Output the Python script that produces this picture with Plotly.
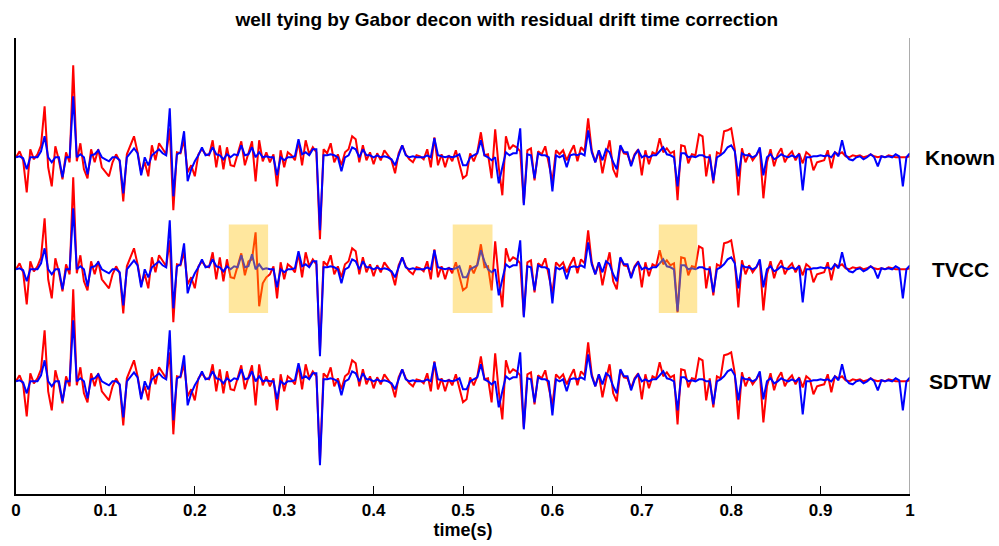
import plotly.graph_objects as go

# time axis (s), sample interval 0.004 s
DT = 0.004
N = 251
time = [round(i * DT, 3) for i in range(N)]

# Known row amplitudes (arbitrary units)
red_known = [
    0, 6, -3, -35, 8, -2, 3, 12, 51, -10, -29, 11, -3, -22, 5, -5, 92, -4, 14, -12, -21, 8, -5, 8, -10,
    -15, -19, -5, 3, -4, -44, 3, 12, 21, 5, -15, -5, -19, 12, -3, 14, 8, 3, 29, -53, 5, 4, 17, -15, -8,
    -19, 3, 8, 3, 2, 17, -10, 12, -12, 10, -8, -9, 4, 16, -8, 5, 16, -24, 17, -4, 5, -5, 3, -29, 7,
    -10, 5, 2, -3, 16, -8, 17, 3, 10, 5, -82, 8, 4, 14, -5, 3, -8, 5, 8, 21, 18, -5, 12, -3, 5,
    -7, 4, -3, 7, 2, -3, -16, 4, 12, 3, -2, -5, 2, 1, -2, 8, -10, 20, -8, 3, -10, 2, -4, 7, -7,
    -21, -18, 4, -4, 5, 25, 2, 3, -21, 28, -10, -38, 21, 8, 12, 10, 6, -46, 7, 9, -23, 6, 3, 11, -5,
    -24, 7, 3, 7, -3, 5, 12, -4, 10, 6, 39, 7, -5, 7, -16, 2, 17, -12, -20, 11, 4, 3, -7, 3, 8,
    -18, 7, -7, 5, 3, 19, 5, 9, 4, 6, -43, 12, 11, -6, 3, 2, 23, 21, -19, 3, -26, 5, 3, 26, 27,
    29, 8, -38, 9, -5, 4, -3, 2, 8, -41, -5, 8, -9, 3, 9, -5, 2, 6, -3, 4, -6, 5, 2, -13, -5,
    -4, -3, 7, -11, 5, 3, 5, 1, 0, 2, 1, 2, 0, 1, 3, 1, 0, 1, 0, 2, 1, 0, 0, 0, 0, 1,
]
blue_known = [
    0, 1, -1, -12, 0, 0, 0, 6, 21, 0, -5, 0, 0, -20, 0, 0, 61, 0, 3, 0, -17, 2, 3, 7, 0,
    -2, -4, 0, 0, -3, -36, 0, 4, 9, 4, -18, 0, -8, 2, 5, 8, 4, 2, 49, -39, 3, 5, 26, -24, -12,
    -4, 2, 10, 2, 3, 10, 3, 2, -2, 3, 0, 3, 2, 12, 2, 3, 10, 0, 5, 0, 1, 0, 0, -18, 0,
    -3, 0, 0, 1, 18, 3, 5, 2, 8, 8, -73, 2, 2, 3, 2, 0, -14, 0, 2, 10, 8, 0, 8, 2, 2,
    0, 2, 0, 1, 0, -2, -8, 2, 12, 2, 0, 1, 0, 0, 0, 2, 0, 19, 2, 1, 0, 1, 0, 1, 3,
    -8, -8, 0, 2, 4, 17, 2, 0, -3, 0, -26, -10, 5, 2, 4, 4, 29, -48, 3, 2, -21, 4, 2, 2, 0,
    -34, 2, 0, 2, -10, 2, 3, 2, 4, 2, 27, 5, -5, 7, -3, 8, 5, -5, -12, 12, 5, 5, -9, 2, 7,
    0, 2, 0, 2, 2, 6, 10, 3, 2, 0, -29, 4, 4, 0, 1, 0, 2, 2, 0, 0, -23, 0, 2, 5, 10,
    12, 6, -19, 4, 2, 2, 0, 2, 10, -18, 0, 3, -2, 0, 3, 1, 0, 2, 0, 3, -33, 0, 0, 1, 1,
    2, 1, 2, 0, 5, 1, 17, 2, -2, -3, 0, 1, -2, 0, 3, 0, -9, 1, 0, 1, 0, 3, 1, -29, 0, 4,
]

# TVCC row: differs from Known inside the highlighted windows
tvcc_red_changes = {64: -6, 65: 8, 66: 10, 67: 37, 68: -37, 69: -14, 70: -8, 85: -82}
tvcc_blue_changes = {63: 14, 66: 15, 85: -87, 130: 19, 131: 8, 185: -42}
# SDTW row: close to Known
sdtw_red_changes = {85: -80}
sdtw_blue_changes = {43: 51, 85: -84}

row_names = ["Known", "TVCC", "SDTW"]
row_offsets = [2, 1, 0]
x_ticks = [0, 0.1, 0.2, 0.3, 0.4, 0.5, 0.6, 0.7, 0.8, 0.9, 1]
x_ticktext = ["0", "0.1", "0.2", "0.3", "0.4", "0.5", "0.6", "0.7", "0.8", "0.9", "1"]
# highlighted time windows on TVCC row (s)
windows = [(0.238, 0.282), (0.4885, 0.533), (0.719, 0.762)]

AMP = 1 / 112.0


def apply(base, changes):
    out = list(base)
    for k, v in changes.items():
        out[k] = v
    return out


rows = [
    (red_known, blue_known),
    (apply(red_known, tvcc_red_changes), apply(blue_known, tvcc_blue_changes)),
    (apply(red_known, sdtw_red_changes), apply(blue_known, sdtw_blue_changes)),
]

fig = go.Figure()
for (r, b), off in zip(rows, row_offsets):
    fig.add_trace(go.Scatter(x=time, y=[off + v * AMP for v in r], mode="lines",
                             line=dict(color="#ff0000", width=2), hoverinfo="skip", showlegend=False))
    fig.add_trace(go.Scatter(x=time, y=[off + v * AMP for v in b], mode="lines",
                             line=dict(color="#0000ff", width=2), hoverinfo="skip", showlegend=False))

for (t0, t1) in windows:
    fig.add_shape(type="rect", xref="x", yref="y", x0=t0, x1=t1, y0=1 - 0.39, y1=1 + 0.40,
                  fillcolor="rgb(255,192,0)", opacity=0.38, line=dict(width=0), layer="above")

# right border line (gray)
fig.add_shape(type="line", xref="x", yref="paper", x0=1, x1=1, y0=0, y1=1,
              line=dict(color="#909090", width=1.5))

for name, off in zip(row_names, row_offsets):
    fig.add_annotation(x=1.056, xref="paper", y=off, yref="y", text=name, showarrow=False,
                       xanchor="center", yanchor="middle",
                       font=dict(family="Liberation Sans, Arial, sans-serif", size=21, color="black", weight="bold"))

fig.update_layout(
    width=999, height=546,
    margin=dict(l=16, r=89, t=38, b=52),
    paper_bgcolor="white", plot_bgcolor="white",
    title=dict(text="well tying by Gabor decon with residual drift time correction",
               x=0.549, xref="paper", xanchor="center", y=0.965, yref="container", yanchor="middle",
               font=dict(family="Liberation Sans, Arial, sans-serif", size=19, color="black", weight="bold")),
    xaxis=dict(range=[0, 1], tickvals=x_ticks, ticktext=x_ticktext, ticks="inside", ticklen=8,
               tickcolor="black", tickwidth=1, showline=True, linecolor="black", linewidth=1.5,
               showgrid=False, zeroline=False,
               tickfont=dict(family="Liberation Sans Narrow, Arial Narrow, Liberation Sans, sans-serif",
                             size=17, color="black", weight="bold"),
               title=dict(text="time(s)", standoff=2,
                          font=dict(family="Liberation Sans Narrow, Arial Narrow, Liberation Sans, sans-serif",
                                    size=18, color="black", weight="bold"))),
    yaxis=dict(range=[-1.006, 3.065], showticklabels=False, ticks="", showgrid=False, zeroline=False,
               showline=True, linecolor="black", linewidth=1.5),
)

fig.write_html("out.html")
